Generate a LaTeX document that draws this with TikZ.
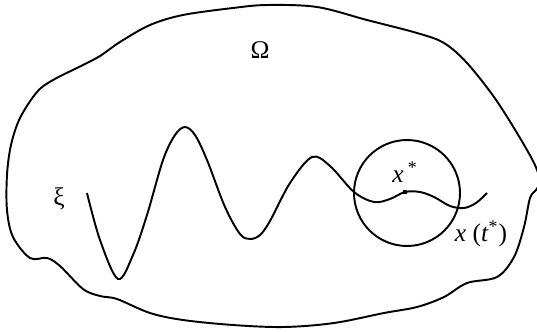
\documentclass[tikz,border=0pt]{standalone}
\usepackage{fontspec}
\setmainfont{Liberation Serif}
\usetikzlibrary{positioning}
\tikzset{curve/.style={line width=1.1pt,line join=round},
  lab/.style={font=\fontsize{14.5}{16}\selectfont,inner sep=0pt},
  pt/.style={fill,inner sep=1.1pt}}
\begin{document}
\begin{tikzpicture}[x=0.02cm,y=-0.02cm]
\useasboundingbox (0,0) rectangle (537,331);
% the region
\draw[curve] plot[smooth cycle,tension=0.55] coordinates {(13,237) (7,210) (7,175) (11,145) (20,118) (37,92)
  (53,80) (83,65) (100,56) (120,42) (150,25) (183,15) (233,8) (267,5) (317,7) (367,20) (417,33) (444,43)
  (467,63) (494,97) (517,133) (534,163) (540,181) (536,190) (530,198) (524,227) (514,257) (497,277)
  (467,283) (444,297) (417,307) (384,313) (334,323) (284,327) (233,325) (183,320) (150,313) (117,299)
  (100,296) (83,289) (60,266) (47,258) (30,258)};
% the trajectory
\draw[curve] plot[smooth,tension=0.55] coordinates {(87,193) (100,240) (118,279) (133,255) (147,215)
  (163,160) (175,135) (185,127) (195,135) (207,160) (225,207) (240,234) (250,239) (260,235) (270,221)
  (290,183) (312,157) (330,166) (354,192) (374,202) (390,199) (405,192) (420,192) (434,197) (450,206)
  (464,208) (476,203) (487,193)};
\node[draw,circle,line width=1.1pt,minimum size=2.12cm] (ball) at (407,193) {};
\node[pt] (dot) at (405,192) {};
\node[lab] (omega) at (260,50) {Ω};
\node[lab] (xi) at (59,199) {ξ};
\node[lab,above=4pt of dot] (xstar) {\textit{x}\,\textsuperscript{*}};
\node[lab] (xtstar) at (481,234) {\textit{x} (\textit{t}\textsuperscript{*})};
\end{tikzpicture}
\end{document}
